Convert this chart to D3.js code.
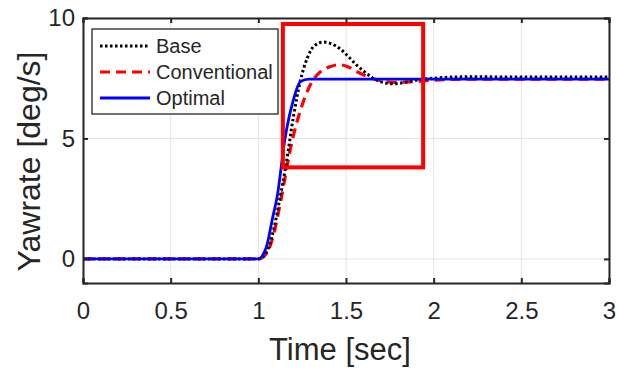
<!DOCTYPE html>
<html>
<head>
<meta charset="utf-8">
<script src="https://cdn.jsdelivr.net/npm/d3@7"></script>
<style>
  body { margin: 0; background: #fff; }
  text { font-family: "Liberation Sans", Arial, sans-serif; fill: #262626; }
</style>
</head>
<body>
<div id="chart"></div>
<script>
const width = 619;
const height = 369;
const margin = { top: 18, right: 10, bottom: 86, left: 83 };

// Series data
const baseT = [0, 1.0, 1.03, 1.06, 1.09, 1.12, 1.16, 1.2, 1.24, 1.28, 1.32, 1.37, 1.42, 1.47, 1.52, 1.56, 1.6, 1.64, 1.7, 1.77, 1.83, 1.9, 2.0, 2.2, 2.5, 3.0];
const baseY = [0, 0, 0.1, 0.5, 1.3, 2.4, 4.0, 5.9, 7.4, 8.35, 8.85, 9.0, 8.92, 8.7, 8.35, 8.05, 7.8, 7.57, 7.35, 7.27, 7.32, 7.42, 7.5, 7.56, 7.55, 7.55];

const convT = [0, 1.0, 1.03, 1.06, 1.09, 1.13, 1.19, 1.26, 1.31, 1.36, 1.41, 1.46, 1.51, 1.56, 1.66, 1.77, 1.87, 2.0, 2.2, 3.0];
const convY = [0, 0, 0.1, 0.4, 1.1, 2.5, 4.8, 6.6, 7.4, 7.8, 7.98, 8.06, 7.98, 7.78, 7.47, 7.33, 7.35, 7.42, 7.46, 7.46];

const optT = [0, 1.0, 1.02, 1.05, 1.08, 1.11, 1.15, 1.2, 1.24, 1.29, 1.35, 3.0];
const optY = [0, 0, 0.1, 0.6, 1.65, 2.7, 4.9, 6.6, 7.36, 7.46, 7.46, 7.46];

const xTicks = [0, 0.5, 1, 1.5, 2, 2.5, 3];
const yTicks = [0, 5, 10];
const legendNames = ['Base', 'Conventional', 'Optimal'];

// highlight box [t0, t1, y0, y1]
const boxT = [1.14, 1.94];
const boxY = [3.8, 9.75];

const svg = d3.select('#chart')
  .append('svg')
  .attr('width', width)
  .attr('height', height);

const x = d3.scaleLinear().domain([0, 3]).range([margin.left, width - margin.right]);
const y = d3.scaleLinear().domain([-1, 10]).range([height - margin.bottom, margin.top]);

// grid
svg.append('g')
  .selectAll('line')
  .data(xTicks)
  .enter()
  .append('line')
  .attr('x1', d => x(d)).attr('x2', d => x(d))
  .attr('y1', y(-1)).attr('y2', y(10))
  .attr('stroke', '#e3e3e3').attr('stroke-width', 1);

svg.append('g')
  .selectAll('line')
  .data(yTicks)
  .enter()
  .append('line')
  .attr('x1', x(0)).attr('x2', x(3))
  .attr('y1', d => y(d)).attr('y2', d => y(d))
  .attr('stroke', '#e3e3e3').attr('stroke-width', 1);

// lines
const line = d3.line()
  .x(d => x(d[0]))
  .y(d => y(d[1]))
  .curve(d3.curveMonotoneX);

const series = [
  { t: convT, v: convY, color: '#ff0000', width: 3.2, dash: '10,6' },
  { t: baseT, v: baseY, color: '#000000', width: 3, dash: '2.5,2.5' },
  { t: optT, v: optY, color: '#0000ff', width: 2.8, dash: null }
];

series.forEach(function (s) {
  svg.append('path')
    .datum(d3.zip(s.t, s.v))
    .attr('d', line)
    .attr('fill', 'none')
    .attr('stroke', s.color)
    .attr('stroke-width', s.width)
    .attr('stroke-dasharray', s.dash);
});

// red highlight rectangle
svg.append('rect')
  .attr('x', x(boxT[0]))
  .attr('y', y(boxY[1]))
  .attr('width', x(boxT[1]) - x(boxT[0]))
  .attr('height', y(boxY[0]) - y(boxY[1]))
  .attr('fill', 'none')
  .attr('stroke', '#ff0000')
  .attr('stroke-width', 4);

// axes with inward ticks
const axisColor = '#262626';
const xAxis = svg.append('g')
  .attr('transform', `translate(0,${y(-1)})`)
  .call(d3.axisBottom(x).tickValues(xTicks).tickSize(-5).tickPadding(19).tickFormat(d3.format('')));
const yAxis = svg.append('g')
  .attr('transform', `translate(${x(0)},0)`)
  .call(d3.axisLeft(y).tickValues(yTicks).tickSize(-5).tickPadding(8));
const xTop = svg.append('g')
  .attr('transform', `translate(0,${y(10)})`)
  .call(d3.axisTop(x).tickValues(xTicks).tickSize(-5).tickFormat(''));
const yRight = svg.append('g')
  .attr('transform', `translate(${x(3)},0)`)
  .call(d3.axisRight(y).tickValues(yTicks).tickSize(-5).tickFormat(''));

[xAxis, yAxis, xTop, yRight].forEach(function (g) {
  g.select('.domain').attr('stroke', axisColor).attr('stroke-width', 2);
  g.selectAll('.tick line').attr('stroke', axisColor).attr('stroke-width', 2);
  g.selectAll('.tick text')
    .style('font-family', '"Liberation Sans", Arial, sans-serif')
    .style('font-size', '24px')
    .attr('fill', axisColor);
});

// axis labels
svg.append('text')
  .attr('x', 340)
  .attr('y', 360)
  .attr('text-anchor', 'middle')
  .style('font-size', '31px')
  .text('Time [sec]');

svg.append('text')
  .attr('transform', `translate(40,${(y(-1) + y(10)) / 2 + 11}) rotate(-90)`)
  .attr('text-anchor', 'middle')
  .style('font-size', '32px')
  .text('Yawrate [deg/s]');

// legend
const legend = svg.append('g');
legend.append('rect')
  .attr('x', 92).attr('y', 29)
  .attr('width', 186).attr('height', 85)
  .attr('fill', '#fff')
  .attr('stroke', '#262626')
  .attr('stroke-width', 1.3);

const legendStyle = [series[1], series[0], series[2]];
legendNames.forEach(function (name, i) {
  const ly = 46 + i * 26;
  legend.append('line')
    .attr('x1', 100).attr('x2', 150)
    .attr('y1', ly).attr('y2', ly)
    .attr('stroke', legendStyle[i].color)
    .attr('stroke-width', legendStyle[i].width)
    .attr('stroke-dasharray', legendStyle[i].dash);
  legend.append('text')
    .attr('x', 156).attr('y', ly + 7)
    .style('font-size', '20px')
    .text(name);
});
</script>
</body>
</html>
